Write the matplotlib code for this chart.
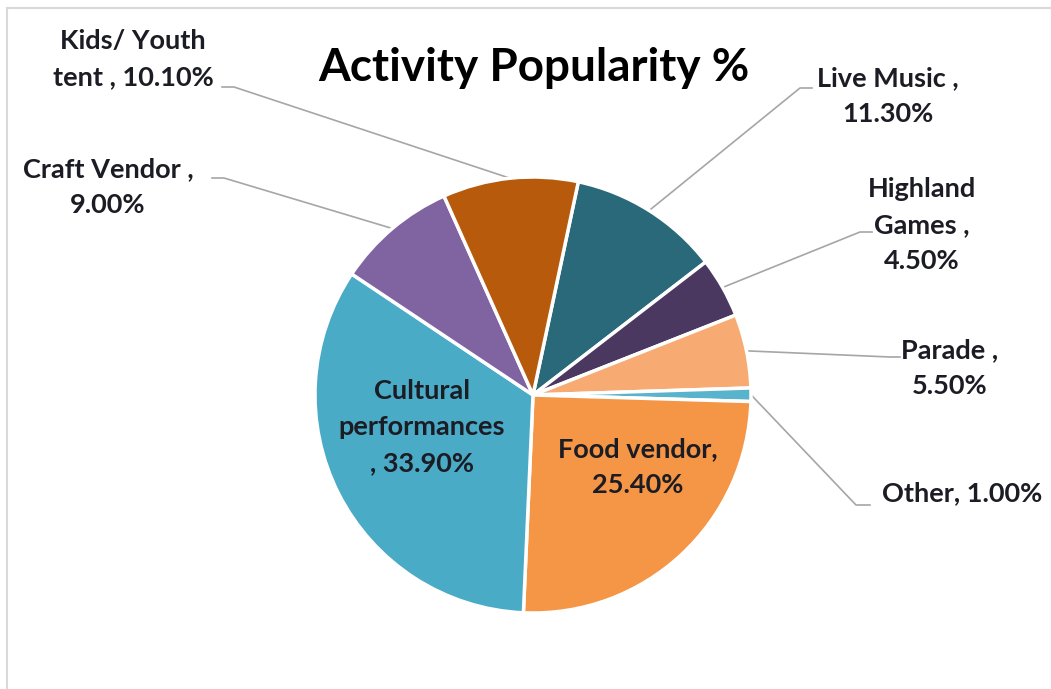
import numpy as np
import matplotlib
matplotlib.use("Agg")
import matplotlib.pyplot as plt

W, H = 1051, 689

# slices clockwise from the top (data order)
categories = ["Live Music", "Highland Games", "Parade", "Other",
              "Food vendor", "Cultural performances", "Craft Vendor", "Kids/ Youth tent"]
values = [11.3, 4.5, 5.5, 1.0, 25.4, 33.9, 9.0, 10.1]
labels = ["Live Music ,\n11.30%", "Highland\nGames ,\n4.50%", "Parade ,\n5.50%",
          "Other, 1.00%", "Food vendor,\n25.40%", "Cultural\nperformances\n, 33.90%",
          "Craft Vendor ,\n9.00%", "Kids/ Youth\ntent , 10.10%"]
colors = ["#29697a", "#4a3860", "#f7ab72", "#5ab3cc",
          "#f59646", "#4aabc7", "#8064a2", "#b85a0c"]

# label layout in pixel coords (x, y from top); None -> label inside the slice
text_pos = [(888, 96), (922, 225), (950, 368), (962, 493),
            (638, 467), (422, 427), (108, 187), (133, 59)]
elbows = [[(812, 88), (800, 88)], [(872, 232), (860, 232)], [(900, 357), (890, 357)],
          [(870, 505), (856, 505)], None, None,
          [(212, 178), (224, 178)], [(222, 87), (234, 87)]]

plt.rcParams["font.family"] = ["Lato", "DejaVu Sans"]

fig = plt.figure(figsize=(W / 100, H / 100), dpi=100)
ax = fig.add_axes([0, 0, 1, 1])

cx, cy, r = 533, H - 395, 218
wedges, _ = ax.pie(values, colors=colors, startangle=78, counterclock=False,
                   center=(cx, cy), radius=r, frame=True,
                   wedgeprops=dict(edgecolor="white", linewidth=2.5))
ax.set_xlim(0, W)
ax.set_ylim(0, H)
ax.set_aspect("equal")
ax.axis("off")

for w, lab, (tx, ty), el in zip(wedges, labels, text_pos, elbows):
    ax.text(tx, H - ty, lab, ha="center", va="center", fontsize=19.5,
            fontweight="bold", color="#1c1c24", linespacing=1.6)
    if el is None:
        continue
    ang = np.deg2rad((w.theta1 + w.theta2) / 2)
    ex, ey = cx + r * np.cos(ang), cy + r * np.sin(ang)
    xs = [el[0][0], el[1][0], ex]
    ys = [H - el[0][1], H - el[1][1], ey]
    ax.plot(xs, ys, color="#a6a6a6", lw=1.2, zorder=0)

ax.text(534, H - 68, "Activity Popularity %", ha="center", va="center",
        fontsize=33, fontweight="bold", color="black")

# chart-area border (top and left visible)
ax.plot([7, W], [H - 8, H - 8], color="#d9d9d9", lw=1.5)
ax.plot([7, 7], [0, H - 8], color="#d9d9d9", lw=1.5)

fig.savefig("out.png", dpi=100, facecolor="white")
